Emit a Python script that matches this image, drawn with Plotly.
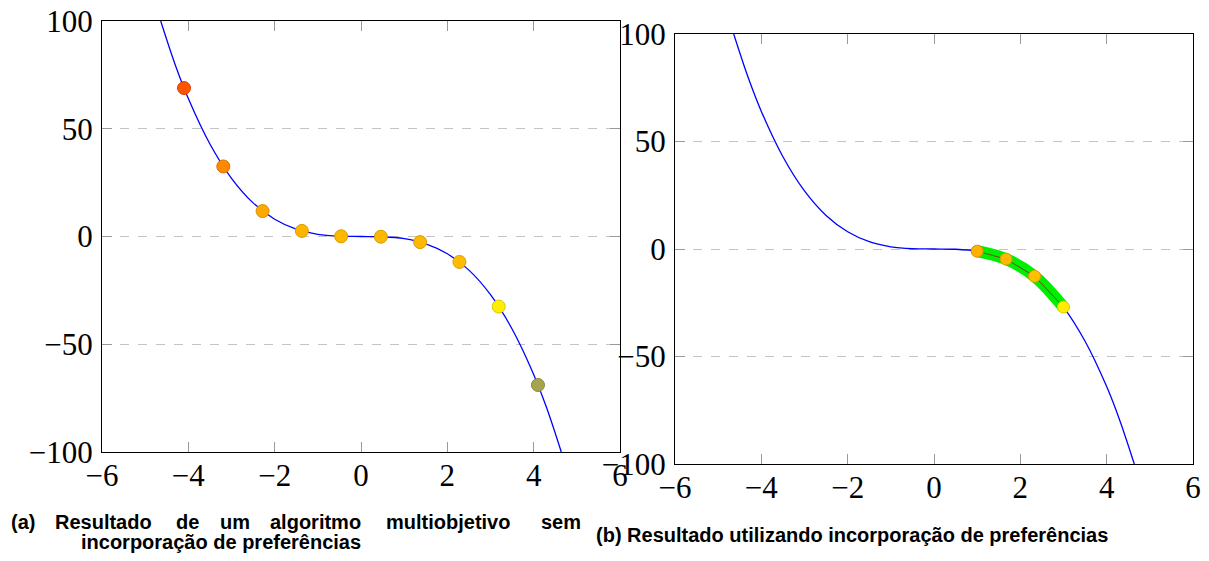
import plotly.graph_objects as go

# Curve values (blue line)
curve_x = [-4.64, -4.3, -4.0, -3.5, -3.0, -2.5, -2.0, -1.5, -1.0, -0.5, 0.0, 0.5, 1.0, 1.5, 2.0, 2.5, 3.0, 3.5, 4.0, 4.3, 4.64]
curve_y = [100, 79.5, 64, 42.9, 27, 15.6, 8, 3.4, 1, 0.12, 0, -0.12, -1, -3.4, -8, -15.6, -27, -42.9, -64, -79.5, -100]

# (a) solutions
a_x = [-4.1, -3.19, -2.28, -1.37, -0.46, 0.46, 1.37, 2.28, 3.19, 4.1]
a_y = [68.9, 32.5, 11.8, 2.6, 0.1, -0.1, -2.6, -11.8, -32.5, -68.9]
a_colors = ["#ff5500", "#ff8a00", "#ffa800", "#ffb400", "#ffb800", "#ffb800", "#ffb800", "#ffbc00", "#ffee00", "#a8a44e"]
a_edges = ["#d84400", "#d87000", "#d89000", "#d89a00", "#d89c00", "#d89c00", "#d89c00", "#d8a000", "#d8c800", "#8a8640"]

# (b) solutions
b_x = [1.0, 1.67, 2.33, 3.0]
b_y = [-1.0, -4.7, -12.7, -27.0]
b_colors = ["#ffb000", "#ffb800", "#ffc000", "#ffee00"]
b_edges = ["#d89000", "#d89c00", "#d8a000", "#d8c800"]

x_ticks = [-6, -4, -2, 0, 2, 4, 6]
y_ticks = [-100, -50, 0, 50, 100]

def lab(v):
    return ("\u2212" + str(abs(v))) if v < 0 else str(v)

fig = go.Figure()

# left panel
fig.add_trace(go.Scatter(x=curve_x, y=curve_y, mode="lines", line=dict(color="#0000ff", width=1.3, shape="spline"),
                         xaxis="x", yaxis="y", showlegend=False, hoverinfo="skip"))
fig.add_trace(go.Scatter(x=a_x, y=a_y, mode="markers",
                         marker=dict(size=13, color=a_colors, line=dict(color=a_edges, width=1)),
                         xaxis="x", yaxis="y", showlegend=False))

# right panel
fig.add_trace(go.Scatter(x=curve_x, y=curve_y, mode="lines", line=dict(color="#0000ff", width=1.3, shape="spline"),
                         xaxis="x2", yaxis="y2", showlegend=False, hoverinfo="skip"))
fig.add_trace(go.Scatter(x=b_x, y=b_y, mode="lines", line=dict(color="#00ee00", width=12, shape="spline"),
                         xaxis="x2", yaxis="y2", showlegend=False, hoverinfo="skip"))
fig.add_trace(go.Scatter(x=b_x, y=b_y, mode="lines", line=dict(color="#6a4a28", width=1),
                         xaxis="x2", yaxis="y2", showlegend=False, hoverinfo="skip"))
fig.add_trace(go.Scatter(x=b_x, y=b_y, mode="markers",
                         marker=dict(size=12, color=b_colors, line=dict(color=b_edges, width=1)),
                         xaxis="x2", yaxis="y2", showlegend=False))

W, H = 1209, 561

def px(v):
    return v / W

def py(v):
    return 1 - v / H

tickfont = dict(family="Liberation Serif", size=31, color="black")

def xa(domain, anchor):
    return dict(domain=domain, anchor=anchor, range=[-6, 6], tickvals=x_ticks, ticktext=[lab(v) for v in x_ticks],
                ticks="inside", ticklen=10, tickcolor="#999999", tickwidth=1, showline=True, linecolor="black",
                linewidth=1, mirror="allticks", showgrid=False, zeroline=False, tickfont=tickfont,
                automargin=False, ticklabeloverflow="allow", ticklabelstandoff=-4)

def ya(domain, anchor):
    return dict(domain=domain, anchor=anchor, range=[-100, 100], tickvals=y_ticks, ticktext=[lab(v) for v in y_ticks],
                ticks="inside", ticklen=10, tickcolor="#999999", tickwidth=1, showline=True, linecolor="black",
                linewidth=1, mirror="allticks", showgrid=True, gridcolor="#c4c4c4", griddash="dash", gridwidth=1,
                zeroline=False, tickfont=tickfont, automargin=False, ticklabeloverflow="allow",
                ticklabelstandoff=2)

fig.update_layout(
    width=W, height=H,
    margin=dict(l=0, r=0, t=0, b=0, autoexpand=False),
    paper_bgcolor="white", plot_bgcolor="white",
    xaxis=xa([px(102), px(620)], "y"),
    yaxis=ya([py(452), py(21)], "x"),
    xaxis2=xa([px(675), px(1193)], "y2"),
    yaxis2=ya([py(464), py(34)], "x2"),
)

capfont = dict(family="Liberation Sans", size=20, color="black")
cap_words = ["(a)", "Resultado", "de", "um", "algoritmo", "multiobjetivo", "sem"]
cap_pos = [9, 53, 174, 218, 268, 384, 539]
for w, p in zip(cap_words, cap_pos):
    fig.add_annotation(text="<b>" + w + "</b>", x=px(p), y=py(522), xref="paper", yref="paper",
                       xanchor="left", yanchor="middle", showarrow=False, font=capfont)
fig.add_annotation(text="<b>incorporação de preferências</b>", x=px(79), y=py(542), xref="paper", yref="paper",
                   xanchor="left", yanchor="middle", showarrow=False, font=capfont)
fig.add_annotation(text="<b>(b) Resultado utilizando incorporação de preferências</b>", x=px(594), y=py(535),
                   xref="paper", yref="paper", xanchor="left", yanchor="middle", showarrow=False, font=capfont)

fig.write_html("out.html", config={"displayModeBar": False},
               post_script="document.body.style.margin='0';document.body.style.overflow='hidden';")
